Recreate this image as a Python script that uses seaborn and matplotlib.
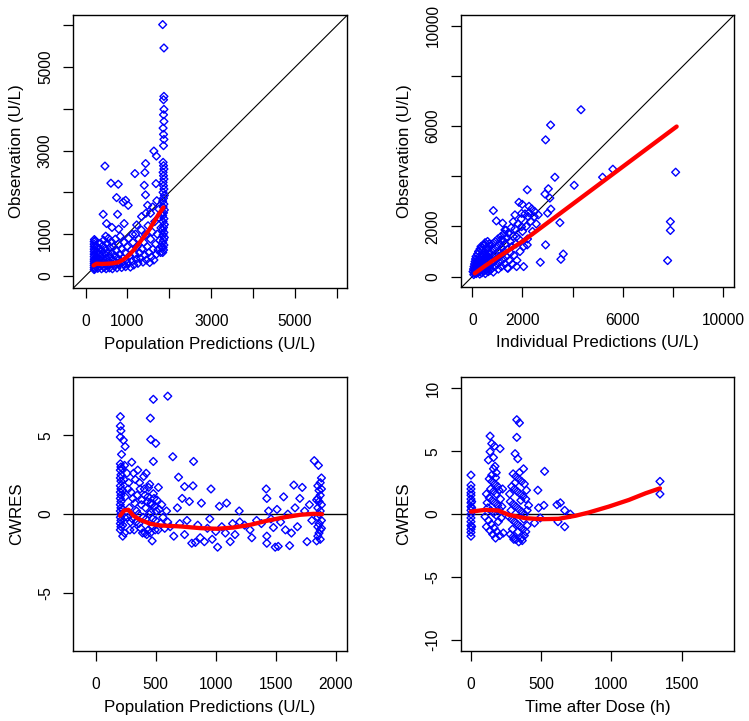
import numpy as np
import pandas as pd
import matplotlib
matplotlib.use("Agg")
import matplotlib.pyplot as plt
import seaborn as sns

# ---------------- DATA ----------------
# Panel 1: Population predictions vs observations (U/L)
p1_left_col = [(205,150),(205,200),(205,250),(205,300),(205,350),(205,400),(205,460),(205,520),
               (205,580),(205,640),(205,700),(205,760),(205,820),(210,870),(225,170),(225,280),
               (225,390),(225,500),(225,610),(225,720),(230,840),(250,220),(255,330),(260,450),
               (265,560),(270,700)]
p1_cluster = [(290,180),(300,300),(310,420),(320,540),(330,650),(340,230),(350,780),(360,360),
              (370,480),(380,170),(390,600),(400,270),(410,720),(420,400),(430,850),(440,200),
              (450,530),(460,320),(470,650),(480,950),(490,170),(500,430),(510,780),(520,260),
              (530,560),(545,900),(555,350),(570,190),(580,680),(590,450),(600,280),(615,820),
              (625,550),(640,170),(650,380),(665,700),(680,240),(695,480),(710,880),(720,330),
              (735,600),(750,190),(765,420),(780,760),(795,270),(810,520),(825,950),(840,350),
              (860,200),(875,640),(890,430),(905,280),(920,800),(940,560),(955,220),(970,380),
              (990,700),(1010,300),(1030,900),(1050,480),(1070,210),(1090,620),(1110,350),
              (1130,800),(1150,260),(1170,520),(1190,1000),(1210,400),(1230,700),(1250,300),
              (1270,880),(1290,550),(1310,420),(1330,1100),(1350,650),(1370,330),(1390,800),
              (1410,500),(1430,980),(1450,380),(1470,700),(1490,1200),(1510,560),(1530,320),
              (1550,880),(1570,450),(1590,1050),(1610,640),(1630,380),(1650,1300),(1670,760),
              (1690,520),(1710,1000),(1730,620),(1750,1400),(1770,850),(1790,560),(1800,1150),
              (1810,700),(1820,1500)]
p1_right_col = [(1840,560),(1860,620),(1850,680),(1870,740),(1840,800),(1860,860),(1880,920),
                (1850,980),(1870,1040),(1840,1100),(1860,1160),(1880,1230),(1850,1300),(1870,1370),
                (1840,1440),(1860,1510),(1880,1580),(1850,1650),(1870,1720),(1840,1790),(1860,1860),
                (1880,1930),(1850,2000),(1870,2080),(1860,2160),(1850,2240),(1870,2320),(1860,2400),
                (1850,2480),(1870,2560),(1860,2640),(1850,2720),(1860,3120),(1870,3270),(1860,3390),
                (1850,3540),(1870,3700),(1860,3860),(1870,3990),(1860,4220),(1870,4300),(1870,5460),
                (1840,6020)]
p1_scatter = [(462,2630),(604,2220),(780,2195),(740,1875),(955,1810),(1017,1690),(895,1770),
              (763,1475),(420,1475),(500,1253),(920,1253),(630,1160),(790,1120),(1177,2450),
              (1415,2474),(1432,2690),(1630,2990),(1690,2870),(1400,2170),(1680,2210),(1430,1940),
              (1480,1690),(1440,1500),(1336,1420),(1120,995),(1220,1220),(1600,1650),(1550,1500),
              (1700,1800),(1750,1600)]
line1_x = [190, 260, 380, 500, 640, 780, 900, 1020, 1140, 1260, 1380, 1500, 1620, 1740, 1860]
line1_y = [250, 290, 285, 290, 300, 325, 390, 480, 610, 760, 920, 1080, 1270, 1470, 1640]

# Panel 2: Individual predictions vs observations (U/L)
p2_cluster = [(60,80),(80,150),(100,220),(120,300),(140,380),(160,120),(180,460),(200,250),
              (220,560),(240,180),(260,350),(280,650),(300,100),(320,480),(340,760),(360,280),
              (380,150),(400,560),(420,880),(440,380),(460,220),(480,700),(500,1000),(520,120),
              (540,460),(560,820),(580,300),(600,1100),(620,600),(640,200),(660,900),(680,420),
              (700,1200),(720,700),(740,300),(760,1000),(780,520),(800,1300),(820,820),(840,180),
              (860,1100),(880,620),(900,400),(920,1400),(940,900),(960,700),(980,1200),(1000,500),
              (1020,1500),(1040,300),(1060,1000),(1080,800),(1100,1300),(1120,600),(1140,1600),
              (1160,400),(1180,1150),(1200,900),(1220,1450),(1240,700),(1260,1700),(1280,1000),
              (1300,500),(1320,1300),(1340,1850),(1360,800),(1380,1550),(1400,350),(1420,1100),
              (1450,1750),(1480,650),(1500,1400),(1520,950),(1550,1950),(1580,1200),(1600,500),
              (1630,1600),(1660,850),(1700,1900),(1740,1300),(1780,650),(1820,2100),(1860,1500),
              (1900,1000),(1950,2300),(2000,1800),(2050,1200),(2100,2500),(2150,2000),(2200,1500),
              (2260,2800),(2320,2200),(2400,1800),(2480,2600),(2550,2100),
              (30,200),(50,300),(70,400),(90,500),(110,600),(130,700),(150,800),(170,250),
              (190,600),(210,900),(230,400),(250,1000),(270,200),(290,800),(310,1100),(330,350),
              (350,1200),(370,650),(390,300),(410,1050),(430,500),(450,1250),(470,850),(490,350),
              (510,1350),(530,750),(550,250),(570,1150),(590,550),(610,1400),(630,800),(650,450),
              (670,1300),(690,950),(710,250)]
p2_scatter = [(4330,6650),(3120,6040),(2920,5450),(3290,3960),(4060,3640),(5190,3960),(5600,4280),
              (8100,4160),(2190,3460),(3030,3500),(2895,3290),(3090,3130),(3130,2690),(3000,2530),
              (3490,2150),(7890,2190),(7890,1840),(7780,640),(2920,1265),(2190,1265),(3625,900),
              (3530,690),(2710,570),(2045,400),(1765,400),(1420,330),(840,2630),(960,2220),
              (1210,2130),(1700,2460),(1860,2960),(1990,2880),(2365,2700),(2260,2550),(2230,2390),
              (2470,2390),(2630,2460),(1965,2520),(1630,2190),(1965,1990),(1765,1590),(1430,1730),
              (1300,1860),(1140,1460),(505,1260),(345,1060)]
line2_x = [100, 500, 1000, 1500, 2000, 3000, 4000, 5000, 6000, 7000, 8140]
line2_y = [130, 420, 760, 1080, 1400, 2146, 2892, 3638, 4384, 5130, 5980]

# Panel 3: Population predictions vs CWRES
p3_left = [(205,6.2),(205,5.6),(210,5.3),(205,4.9),(215,3.8),(205,3.2),(210,3.0),(205,2.8),
           (210,2.5),(205,2.3),(210,2.1),(205,1.8),(210,1.6),(205,1.4),(210,1.2),(205,1.0),
           (210,0.8),(205,0.6),(210,0.4),(205,0.2),(210,0.0),(205,-0.2),(210,-0.4),(205,-0.6),
           (210,-0.8),(205,-1.0),(225,-1.4),(220,2.9),(225,1.5),(225,0.3),(225,-0.7),(230,4.7),
           (245,4.3),(240,3.1),(235,2.2),(245,1.1),(240,-0.2),(240,-1.2)]
p3_dense = [(260,2.6),(270,1.6),(280,0.4),(290,-0.5),(300,3.3),(310,1.0),(320,-1.0),(330,2.2),
            (340,0.2),(350,2.8),(360,-0.6),(370,1.6),(380,0.6),(390,-1.2),(400,2.4),(410,1.2),
            (420,-0.3),(430,0.8),(440,-1.0),(450,1.9),(460,0.1),(470,-0.8),(480,1.3),(490,0.5),
            (500,-0.4),(510,0.9),(520,-1.0),(530,0.3),(540,-0.6),(550,0.6),(560,-0.2),(575,-0.9),
            (590,0.2),(600,-0.5),(265,-0.2),(275,2.0),(285,-1.0),(295,1.4),(305,-0.3),(315,2.6),
            (325,0.7),(335,-0.5),(345,1.2),(355,0.0),(365,2.0),(375,-0.9),(385,0.9),(395,-0.2),
            (405,1.6),(415,0.4),(425,-1.3),(435,1.1),(445,0.0),(455,-1.2),(465,0.6),(475,-0.3),
            (485,1.0),(495,-1.0),(505,0.2)]
p3_scatter = [(480,7.3),(600,7.5),(455,6.1),(458,4.75),(500,4.5),(480,3.35),(522,1.7),(642,3.65),
              (690,2.35),(815,3.35),(740,1.75),(810,1.8),(960,1.6),(880,0.7),(1090,0.7),(1030,0.5),
              (1195,0.2),(440,1.7),(460,0.7),(470,-1.7),(410,-1.2),(420,2.6)]
p3_band = [(620,-0.8),(650,-1.4),(680,0.4),(700,-0.6),(720,1.0),(740,-1.3),(760,-0.4),(780,0.8),
           (800,-1.85),(830,-1.8),(850,-0.7),(870,-1.5),(905,-1.75),(930,-0.9),(950,-0.3),
           (970,-1.6),(1000,-1.1),(1015,-2.1),(1050,-0.8),(1080,-1.2),(1120,-1.75),(1140,-0.6),
           (1160,-1.3),(1200,-0.5),(1240,-0.7),(1285,-1.0),(1300,-1.5),(1340,-0.4),(1380,-0.6),
           (1420,1.6),(1425,1.0),(1425,-1.4),(1425,-1.85),(1440,0.2),(1460,-0.3),(1480,-0.85),
           (1495,-2.1),(1510,0.3),(1520,-2.05),(1540,-0.5),(1565,1.1),(1580,-1.0),(1600,0.0),
           (1615,-2.0),(1630,-1.2),(1650,1.85),(1660,0.4),(1680,-0.8),(1700,1.0),(1720,1.7),
           (1740,0.2),(1760,-1.75),(1780,0.6),(1800,-0.4),(1820,3.4)]
p3_right = [(1855,3.1),(1880,2.3),(1870,2.0),(1850,1.8),(1860,1.5),(1870,1.2),(1850,1.0),
            (1860,0.8),(1880,0.6),(1850,0.4),(1870,0.2),(1860,0.0),(1850,-0.2),(1880,-0.4),
            (1860,-0.6),(1850,-0.8),(1870,-1.0),(1860,-1.2),(1850,-1.4),(1870,-1.6),(1840,-1.7),
            (1880,1.6),(1840,0.9),(1880,-0.9)]
line3_x = [203, 236, 272, 314, 370, 453, 537, 703, 870, 1009, 1148, 1287, 1426, 1565, 1704, 1815, 1885]
line3_y = [-0.1, 0.23, 0.28, -0.1, -0.36, -0.61, -0.72, -0.78, -0.89, -0.93, -0.85, -0.68,
           -0.42, -0.21, -0.04, 0.02, 0.0]

# Panel 4: Time after dose vs CWRES
p4_col0 = [(0,3.1),(0,2.3),(0,2.0),(0,1.7),(0,1.5),(0,1.2),(0,0.9),(0,0.6),(0,0.3),(0,0.0),
           (0,-0.3),(0,-0.6),(0,-0.9),(0,-1.2),(0,-1.45),(0,-1.75),(5,1.0),(5,-1.0),(5,0.5)]
p4_col1 = [(136,6.2),(148,5.6),(167,5.4),(207,5.2),(136,4.96),(124,4.3),(171,3.8),(148,3.1),
           (160,3.6),(180,3.3),(130,2.8),(150,2.6),(170,2.4),(190,2.2),(140,2.0),(160,1.8),
           (180,1.6),(200,1.9),(110,1.6),(130,1.3),(150,1.1),(170,0.9),(190,0.7),(210,1.2),
           (120,0.5),(140,0.3),(160,0.1),(180,-0.1),(200,0.4),(100,-0.2),(125,-0.5),(145,-0.8),
           (165,-1.1),(185,-1.4),(205,-1.7),(110,-1.0),(135,-1.3),(155,-1.6),(175,-1.9),
           (195,-0.6),(215,-0.3),(230,-1.5),(220,0.6),(225,2.0),(115,0.9),(160,4.5),(175,2.9)]
p4_col2 = [(326,7.5),(345,7.25),(326,6.1),(314,4.8),(333,4.4),(374,3.6),(300,3.2),(320,3.0),
           (340,2.8),(360,2.6),(380,2.4),(290,2.2),(310,2.0),(330,1.8),(350,1.6),(370,1.4),
           (390,1.2),(280,1.0),(300,0.8),(320,0.6),(340,0.4),(360,0.2),(380,0.0),(400,0.3),
           (270,-0.2),(290,-0.4),(310,-0.6),(330,-0.8),(350,-1.0),(370,-1.2),(390,-1.4),
           (280,-1.6),(300,-1.8),(320,-2.0),(340,-2.2),(360,-1.9),(380,-1.7),(400,-0.9),
           (410,0.7),(275,1.6),(295,-1.2),(315,2.5),(335,-1.4),(355,1.1),(375,-0.4),(395,1.9),
           (345,3.3),(305,-2.0),(365,-2.1),(285,0.3)]
p4_scatter = [(476,1.9),(524,3.4),(519,0.7),(481,0.5),(452,-0.7),(493,-0.3),(612,0.75),
              (636,0.9),(667,0.3),(667,-1.0),(707,0.0),(619,-0.6),(1345,2.6),(1345,1.6)]
line4_x = [0, 100, 195, 267, 386, 505, 624, 743, 838, 981, 1124, 1243, 1345]
line4_y = [0.2, 0.34, 0.29, -0.05, -0.32, -0.4, -0.37, -0.13, 0.13, 0.6, 1.13, 1.66, 2.05]

# Tick labels
p1_ticks = [0, 1000, 2000, 3000, 4000, 5000, 6000]
p1_labels = ["0", "1000", "", "3000", "", "5000", ""]
p2_ticks = [0, 2000, 4000, 6000, 8000, 10000]
p2_labels = ["0", "2000", "", "6000", "", "10000"]
p3_xticks = [0, 500, 1000, 1500, 2000]
p3_xlabels = ["0", "500", "1000", "1500", "2000"]
p3_yticks = [-5, 0, 5]
p3_ylabels = ["-5", "0", "5"]
p4_xticks = [0, 500, 1000, 1500]
p4_xlabels = ["0", "500", "1000", "1500"]
p4_yticks = [-10, -5, 0, 5, 10]
p4_ylabels = ["-10", "-5", "0", "5", "10"]

# ---------------- PLOT ----------------
sns.set_theme(style="white")
plt.rcParams['font.family'] = ['Liberation Sans', 'DejaVu Sans']

fig = plt.figure(figsize=(7.49, 7.21), dpi=100)
positions = [[0.0975, 0.6006, 0.3658, 0.3786],
             [0.6151, 0.6019, 0.3649, 0.3773],
             [0.0975, 0.0971, 0.3658, 0.3796],
             [0.6151, 0.0971, 0.3649, 0.3796]]
axes = [fig.add_axes(p) for p in positions]


def frame(pairs_groups):
    pts = [pt for g in pairs_groups for pt in g]
    return pd.DataFrame(pts, columns=["x", "y"])


def draw(ax, df, lx, ly):
    sns.scatterplot(data=df, x="x", y="y", ax=ax, marker="D", s=16,
                    facecolor="none", edgecolor="blue", linewidth=1.0, zorder=2)
    sns.lineplot(x=lx, y=ly, ax=ax, color="red", linewidth=3.1, sort=False,
                 estimator=None, zorder=3)


def style(ax, xt, xl, yt, yl, xlim, ylim, xlabel, ylabel):
    ax.set_xlim(*xlim)
    ax.set_ylim(*ylim)
    ax.set_xticks(xt)
    ax.set_xticklabels(xl, fontsize=11.2)
    ax.set_yticks(yt)
    ax.set_yticklabels(yl, fontsize=11.2, rotation=90, va="center")
    ax.tick_params(axis="x", bottom=True, direction="out", length=7.5, width=0.9,
                   pad=11, colors="black")
    ax.tick_params(axis="y", left=True, direction="out", length=7.5, width=0.9,
                   pad=7, colors="black")
    for sp in ax.spines.values():
        sp.set_visible(True)
        sp.set_color("black")
        sp.set_linewidth(1.0)
    ax.set_xlabel(xlabel, fontsize=12.2, color="black")
    ax.set_ylabel(ylabel, fontsize=12.2, color="black")
    ax.xaxis.set_label_coords(0.5, -0.178)
    ax.yaxis.set_label_coords(-0.18, 0.5)
    ax.set_facecolor("white")


# Panel 1
ax = axes[0]
ax.axline((0, 0), slope=1, color="black", linewidth=0.8, zorder=1)
draw(ax, frame([p1_left_col, p1_cluster, p1_right_col, p1_scatter]), line1_x, line1_y)
style(ax, p1_ticks, p1_labels, p1_ticks, p1_labels, (-300, 6240), (-290, 6250),
      "Population Predictions (U/L)", "Observation (U/L)")

# Panel 2
ax = axes[1]
ax.axline((0, 0), slope=1, color="black", linewidth=0.8, zorder=1)
draw(ax, frame([p2_cluster, p2_scatter]), line2_x, line2_y)
style(ax, p2_ticks, p2_labels, p2_ticks, p2_labels, (-460, 10425), (-415, 10425),
      "Individual Predictions (U/L)", "Observation (U/L)")

# Panel 3
ax = axes[2]
ax.axhline(0, color="black", linewidth=1.0, zorder=1)
draw(ax, frame([p3_left, p3_dense, p3_scatter, p3_band, p3_right]), line3_x, line3_y)
style(ax, p3_xticks, p3_xlabels, p3_yticks, p3_ylabels, (-189, 2093), (-8.7, 8.7),
      "Population Predictions (U/L)", "CWRES")

# Panel 4
ax = axes[3]
ax.axhline(0, color="black", linewidth=1.0, zorder=1)
draw(ax, frame([p4_col0, p4_col1, p4_col2, p4_scatter]), line4_x, line4_y)
style(ax, p4_xticks, p4_xlabels, p4_yticks, p4_ylabels, (-73, 1872), (-10.87, 10.87),
      "Time after Dose (h)", "CWRES")

fig.savefig("out.png", dpi=100, facecolor="white")
